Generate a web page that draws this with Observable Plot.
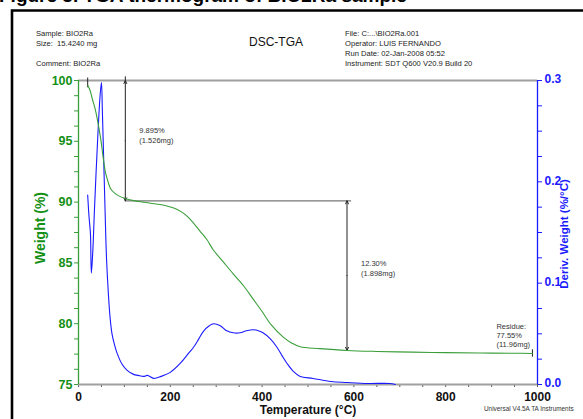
<!DOCTYPE html>
<html><head><meta charset="utf-8">
<script src="https://cdn.jsdelivr.net/npm/d3@7"></script>
<script src="https://cdn.jsdelivr.net/npm/@observablehq/plot@0.6"></script>
<style>body{margin:0;background:#fff;} svg{display:block;}</style>
</head><body><div id="chart"></div>
<script>
// ---- data ----
const weightTemp = [20, 25, 30, 36, 41, 48, 54, 59, 65, 70, 80, 91, 105, 124, 140, 157, 178, 200, 215, 230, 243, 265, 280, 293, 315, 337, 360, 381, 400, 420, 446, 465, 483, 526, 585, 650, 728, 800, 874, 950, 989];
const weightPct  = [99.6, 99.2, 98.5, 97.7, 96.8, 95.3, 93.6, 92.4, 91.6, 91.1, 90.7, 90.45, 90.25, 90.1, 90.0, 89.9, 89.8, 89.6, 89.4, 89.05, 88.6, 87.6, 86.9, 86.1, 85.1, 84.1, 83.1, 82.0, 81.0, 79.9, 78.9, 78.4, 78.1, 77.95, 77.8, 77.72, 77.66, 77.62, 77.59, 77.57, 77.55];

const derivTemp = [20, 23, 26, 28, 31, 35, 41, 47, 50, 52, 55, 58, 61, 65, 69, 73, 78, 84, 95, 106, 120, 130, 142, 150, 164, 180, 200, 222, 240, 251, 262, 273, 285, 294, 309, 323, 337, 352, 366, 381, 392, 402, 418, 432, 444, 454, 468, 483, 511, 550, 585, 630, 678, 690];
const derivVal  = [0.187, 0.165, 0.149, 0.11, 0.13, 0.175, 0.235, 0.285, 0.298, 0.27, 0.22, 0.17, 0.125, 0.09, 0.065, 0.05, 0.04, 0.031, 0.02, 0.014, 0.01, 0.009, 0.008, 0.009, 0.006, 0.008, 0.012, 0.021, 0.031, 0.037, 0.045, 0.053, 0.058, 0.06, 0.058, 0.053, 0.051, 0.051, 0.053, 0.054, 0.053, 0.051, 0.045, 0.037, 0.028, 0.021, 0.013, 0.008, 0.006, 0.003, 0.002, 0.001, 0.001, 0.0];

const xTicks = [0, 200, 400, 600, 800, 1000];
const yTicks = [75, 80, 85, 90, 95, 100];
const derivTicks = [0.0, 0.1, 0.2, 0.3];

const stepTemp  = [102, 585];
const stepFrom  = [100, 90.105];
const stepTo    = [90.105, 77.805];
const stepLabel = ["9.895%\n(1.526mg)", "12.30%\n(1.898mg)"];
const residueTemp = [989];
const residuePct = [77.55];
const residueLabel = ["Residue:\n77.55%\n(11.96mg)"];

const headerLeft  = ["Sample: BIO2Ra", "Size:  15.4240 mg", "", "Comment: BIO2Ra"];
const headerRight = ["File: C:...\\BIO2Ra.001", "Operator: LUIS FERNANDO", "Run Date: 02-Jan-2008 05:52", "Instrument: SDT Q600 V20.9 Build 20"];

// ---- helpers ----
const dMax = 0.3, wMin = 75, wMax = 100;
const toW = d => wMin + d * (wMax - wMin) / dMax;
const weightData = weightTemp.map((t, i) => ({t, w: weightPct[i]}));
const derivData = derivTemp.map((t, i) => ({t, w: toW(derivVal[i])}));
const steps = stepTemp.map((t, i) => ({t, from: stepFrom[i], to: stepTo[i], label: stepLabel[i], mid: (stepFrom[i] + stepTo[i]) / 2}));
const residue = residueTemp.map((t, i) => ({t, w: residuePct[i], label: residueLabel[i]}));

const GREEN_T = "#159015", GREEN_L = "#3a9e3a", BLUE = "#1a1aff", GRAY = "#a0a0a0";
const minorY = d3.range(75, 100.01, 1.25);
const minorD = d3.range(0, 0.3001, 0.025).map(toW);
const minorX = d3.range(0, 1001, 50);

const chart = Plot.plot({
  width: 583, height: 419,
  marginLeft: 78, marginRight: 46, marginTop: 80, marginBottom: 35,
  style: {fontFamily: "Liberation Sans, Arial, sans-serif", background: "white"},
  x: {domain: [0, 1000], axis: null},
  y: {domain: [75, 100], axis: null},
  marks: [
    Plot.axisX(minorX, {anchor: "bottom", tickSize: 3, tickFormat: () => "", stroke: "#555", label: null}),
    Plot.axisY(minorY, {anchor: "left", tickSize: 4, tickFormat: () => "", stroke: GREEN_L, label: null}),
    Plot.axisY(minorD, {anchor: "right", tickSize: 4, tickFormat: () => "", stroke: BLUE, label: null}),
    Plot.ruleY([100], {stroke: GRAY, strokeWidth: 2}),
    Plot.ruleY([75], {stroke: GRAY, strokeWidth: 2}),
    Plot.ruleX([0], {stroke: GREEN_L, strokeWidth: 1.3}),
    Plot.ruleX([1000], {stroke: BLUE, strokeWidth: 1.3}),
    // annotations
    Plot.ruleY(steps.slice(1), {y: "from", x1: stepTemp[0], x2: d => d.t + 10, stroke: "#777", strokeWidth: 1.3}),
    Plot.ruleX(steps.slice(0, 1), {x: "t", y1: d => d.from + 0.3, y2: d => d.from, stroke: "#222"}),
    Plot.ruleX(weightData.slice(0, 1), {x: "t", y1: d => d.w + 0.6, y2: d => d.w - 0.2, stroke: "#222"}),
    Plot.ruleX(residue, {x: "t", y1: d => d.w + 0.3, y2: d => d.w - 0.3, stroke: "#222"}),
    Plot.arrow(steps, {x1: "t", x2: "t", y1: "mid", y2: "from", stroke: "#222", strokeWidth: 1, headLength: 5, headAngle: 50}),
    Plot.arrow(steps, {x1: "t", x2: "t", y1: "mid", y2: "to", stroke: "#222", strokeWidth: 1, headLength: 5, headAngle: 50}),
    Plot.text(steps, {x: "t", y: d => d.from - 0.45 * (d.from - d.to), text: "label", dx: 14, textAnchor: "start", lineAnchor: "middle", fontSize: 7.5, lineHeight: 1.3, fill: "#333"}),
    Plot.text(residue, {x: "t", y: "w", text: "label", dx: -36, dy: -6, textAnchor: "start", lineAnchor: "bottom", fontSize: 7.5, lineHeight: 1.25, fill: "#333"}),
    // curves
    Plot.line(derivData, {x: "t", y: "w", stroke: BLUE, strokeWidth: 1.1, curve: "catmull-rom"}),
    Plot.line(weightData, {x: "t", y: "w", stroke: GREEN_L, strokeWidth: 1.1, curve: "catmull-rom"}),
    // tick labels
    Plot.text(yTicks, {x: 0, y: d => d, text: d => String(d), dx: -6, textAnchor: "end", fill: GREEN_T, fontWeight: "bold", fontSize: 12.5}),
    Plot.text(derivTicks, {x: 1000, y: d => toW(d), text: d => d.toFixed(1), dx: 7, dy: -1, textAnchor: "start", fill: BLUE, fontWeight: "bold", fontSize: 12}),
    Plot.text(xTicks, {x: d => d, y: 75, text: d => String(d), dy: 12.5, lineAnchor: "middle", fill: "#111", fontWeight: "bold", fontSize: 12})
  ]
});

const svg = d3.select(chart);
const font = "Liberation Sans, Arial, sans-serif";
const add = (x, y, s, attrs = {}) => {
  const t = svg.append("text").attr("x", x).attr("y", y).attr("text-anchor", "start").attr("font-family", font).attr("fill", "#222").text(s);
  for (const k in attrs) t.attr(k, attrs[k]);
  return t;
};
// cut-off caption at the very top and figure frame
add(-1, 1.5, "Figure 3. TGA thermogram of BIO2Ra sample", {"font-weight": "bold", "font-size": 19, fill: "#000"});
svg.append("path").attr("d", "M12,421 V10.5 H590").attr("fill", "none").attr("stroke", "#000").attr("stroke-width", 2.6);
// header
headerLeft.forEach((s, i) => { if (s) add(36, 36 + i * 10, s, {"font-size": 7.6, "xml:space": "preserve"}); });
headerRight.forEach((s, i) => add(345, 36 + i * 10, s, {"font-size": 7.6}));
add(276, 46, "DSC-TGA", {"text-anchor": "middle", "font-size": 12, fill: "#111"});
// axis titles
add(0, 0, "Weight (%)", {transform: "translate(45,228) rotate(-90)", "text-anchor": "middle", "font-weight": "bold", "font-size": 14, fill: GREEN_T});
add(0, 0, "Deriv. Weight (%/°C)", {transform: "translate(568,234) rotate(-90)", "text-anchor": "middle", "font-weight": "bold", "font-size": 11.5, fill: BLUE});
add(308, 414, "Temperature (°C)", {"text-anchor": "middle", "font-weight": "bold", "font-size": 12, fill: "#111"});
add(484, 411, "Universal V4.5A TA Instruments", {"font-size": 6.4, fill: "#333"});

document.getElementById("chart").append(chart);
</script>
</body></html>
